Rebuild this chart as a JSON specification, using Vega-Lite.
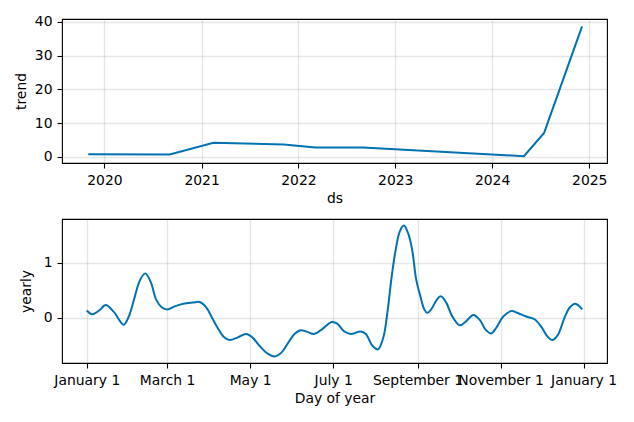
{
  "$schema": "https://vega.github.io/schema/vega-lite/v6.json",
  "padding": {"left": 14, "top": 14, "right": 5, "bottom": 5},
  "spacing": 11,
  "datasets": {
    "trend": [
      {"ds": "2019-11-01", "trend": 0.8},
      {"ds": "2020-09-03", "trend": 0.7},
      {"ds": "2021-02-15", "trend": 4.2},
      {"ds": "2021-11-07", "trend": 3.7},
      {"ds": "2022-03-05", "trend": 2.8},
      {"ds": "2022-09-01", "trend": 2.8},
      {"ds": "2024-04-30", "trend": 0.2},
      {"ds": "2024-07-15", "trend": 7.1},
      {"ds": "2024-12-05", "trend": 38.6}
    ],
    "yearly": [
      {"day": "2017-01-01", "yearly": 0.13},
      {"day": "2017-01-05", "yearly": 0.06},
      {"day": "2017-01-10", "yearly": 0.13},
      {"day": "2017-01-15", "yearly": 0.23},
      {"day": "2017-01-21", "yearly": 0.10},
      {"day": "2017-01-28", "yearly": -0.13},
      {"day": "2017-02-01", "yearly": 0.03},
      {"day": "2017-02-05", "yearly": 0.36},
      {"day": "2017-02-09", "yearly": 0.68},
      {"day": "2017-02-13", "yearly": 0.81},
      {"day": "2017-02-17", "yearly": 0.65},
      {"day": "2017-02-21", "yearly": 0.33},
      {"day": "2017-02-25", "yearly": 0.19},
      {"day": "2017-03-01", "yearly": 0.15},
      {"day": "2017-03-07", "yearly": 0.21},
      {"day": "2017-03-13", "yearly": 0.255},
      {"day": "2017-03-20", "yearly": 0.275},
      {"day": "2017-03-25", "yearly": 0.285},
      {"day": "2017-03-30", "yearly": 0.18},
      {"day": "2017-04-03", "yearly": 0.0},
      {"day": "2017-04-07", "yearly": -0.18},
      {"day": "2017-04-12", "yearly": -0.36},
      {"day": "2017-04-16", "yearly": -0.41},
      {"day": "2017-04-22", "yearly": -0.36},
      {"day": "2017-04-28", "yearly": -0.30},
      {"day": "2017-05-03", "yearly": -0.37},
      {"day": "2017-05-08", "yearly": -0.52},
      {"day": "2017-05-14", "yearly": -0.66},
      {"day": "2017-05-19", "yearly": -0.71},
      {"day": "2017-05-24", "yearly": -0.64},
      {"day": "2017-05-30", "yearly": -0.42},
      {"day": "2017-06-03", "yearly": -0.29},
      {"day": "2017-06-07", "yearly": -0.23},
      {"day": "2017-06-12", "yearly": -0.26},
      {"day": "2017-06-17", "yearly": -0.30},
      {"day": "2017-06-23", "yearly": -0.21},
      {"day": "2017-06-30", "yearly": -0.08},
      {"day": "2017-07-04", "yearly": -0.11},
      {"day": "2017-07-09", "yearly": -0.25},
      {"day": "2017-07-14", "yearly": -0.30},
      {"day": "2017-07-21", "yearly": -0.255},
      {"day": "2017-07-25", "yearly": -0.30},
      {"day": "2017-07-30", "yearly": -0.52},
      {"day": "2017-08-03", "yearly": -0.58},
      {"day": "2017-08-07", "yearly": -0.35},
      {"day": "2017-08-10", "yearly": 0.12},
      {"day": "2017-08-13", "yearly": 0.75},
      {"day": "2017-08-16", "yearly": 1.25},
      {"day": "2017-08-19", "yearly": 1.58},
      {"day": "2017-08-22", "yearly": 1.685},
      {"day": "2017-08-25", "yearly": 1.55},
      {"day": "2017-08-28", "yearly": 1.25},
      {"day": "2017-08-31", "yearly": 0.70},
      {"day": "2017-09-03", "yearly": 0.40},
      {"day": "2017-09-06", "yearly": 0.15},
      {"day": "2017-09-08", "yearly": 0.09},
      {"day": "2017-09-11", "yearly": 0.15},
      {"day": "2017-09-15", "yearly": 0.32},
      {"day": "2017-09-18", "yearly": 0.39},
      {"day": "2017-09-22", "yearly": 0.28},
      {"day": "2017-09-26", "yearly": 0.05},
      {"day": "2017-10-02", "yearly": -0.14},
      {"day": "2017-10-07", "yearly": -0.06},
      {"day": "2017-10-12", "yearly": 0.05},
      {"day": "2017-10-17", "yearly": -0.05},
      {"day": "2017-10-21", "yearly": -0.22},
      {"day": "2017-10-25", "yearly": -0.29},
      {"day": "2017-10-29", "yearly": -0.18},
      {"day": "2017-11-03", "yearly": 0.02},
      {"day": "2017-11-09", "yearly": 0.12},
      {"day": "2017-11-14", "yearly": 0.08},
      {"day": "2017-11-20", "yearly": 0.02},
      {"day": "2017-11-26", "yearly": -0.03},
      {"day": "2017-12-01", "yearly": -0.17},
      {"day": "2017-12-05", "yearly": -0.33},
      {"day": "2017-12-09", "yearly": -0.41},
      {"day": "2017-12-13", "yearly": -0.32},
      {"day": "2017-12-18", "yearly": 0.0},
      {"day": "2017-12-22", "yearly": 0.19},
      {"day": "2017-12-26", "yearly": 0.255},
      {"day": "2017-12-31", "yearly": 0.15}
    ]
  },
  "vconcat": [
    {
      "width": 545,
      "height": 144,
      "data": {"name": "trend"},
      "mark": {"type": "line", "color": "#0072B2", "strokeWidth": 2},
      "encoding": {
        "x": {
          "field": "ds", "type": "temporal", "title": "ds",
          "scale": {"domain": [{"year": 2019, "month": 7, "date": 25}, {"year": 2025, "month": 3, "date": 9}], "nice": false},
          "axis": {"format": "%Y", "values": [{"year": 2020, "month": 1, "date": 1}, {"year": 2021, "month": 1, "date": 1}, {"year": 2022, "month": 1, "date": 1}, {"year": 2023, "month": 1, "date": 1}, {"year": 2024, "month": 1, "date": 1}, {"year": 2025, "month": 1, "date": 1}], "labelFlush": false, "labelOverlap": false}
        },
        "y": {
          "field": "trend", "type": "quantitative", "title": "trend",
          "scale": {"domain": [-1.8, 40.8], "nice": false, "zero": false},
          "axis": {"values": [0, 10, 20, 30, 40], "titlePadding": 5.5}
        }
      }
    },
    {
      "width": 545,
      "height": 144,
      "data": {"name": "yearly"},
      "mark": {"type": "line", "color": "#0072B2", "strokeWidth": 2, "interpolate": "catmull-rom"},
      "encoding": {
        "x": {
          "field": "day", "type": "temporal", "title": "Day of year",
          "scale": {"domain": [{"year": 2016, "month": 12, "date": 13, "hours": 19}, {"year": 2018, "month": 1, "date": 18, "hours": 5}], "nice": false},
          "axis": {"format": "%B %-d", "values": [{"year": 2017, "month": 1, "date": 1}, {"year": 2017, "month": 3, "date": 1}, {"year": 2017, "month": 5, "date": 1}, {"year": 2017, "month": 7, "date": 1}, {"year": 2017, "month": 9, "date": 1}, {"year": 2017, "month": 11, "date": 1}, {"year": 2018, "month": 1, "date": 1}], "labelFlush": false, "labelOverlap": false, "labelBound": false}
        },
        "y": {
          "field": "yearly", "type": "quantitative", "title": "yearly",
          "scale": {"domain": [-0.83, 1.805], "nice": false, "zero": false},
          "axis": {"values": [0, 1], "format": "d", "titlePadding": 10}
        }
      }
    }
  ],
  "config": {
    "font": "DejaVu Sans",
    "view": {"stroke": "black", "strokeWidth": 1.1},
    "axis": {
      "labelFont": "DejaVu Sans", "labelFontSize": 13.9, "labelColor": "black",
      "titleFont": "DejaVu Sans", "titleFontSize": 13.9, "titleFontWeight": "normal", "titleColor": "black",
      "tickColor": "black", "tickSize": 5, "tickWidth": 1.1, "labelPadding": 5, "titlePadding": 5,
      "domain": false, "gridColor": "#808080", "gridOpacity": 0.2, "gridWidth": 1.4
    }
  }
}
